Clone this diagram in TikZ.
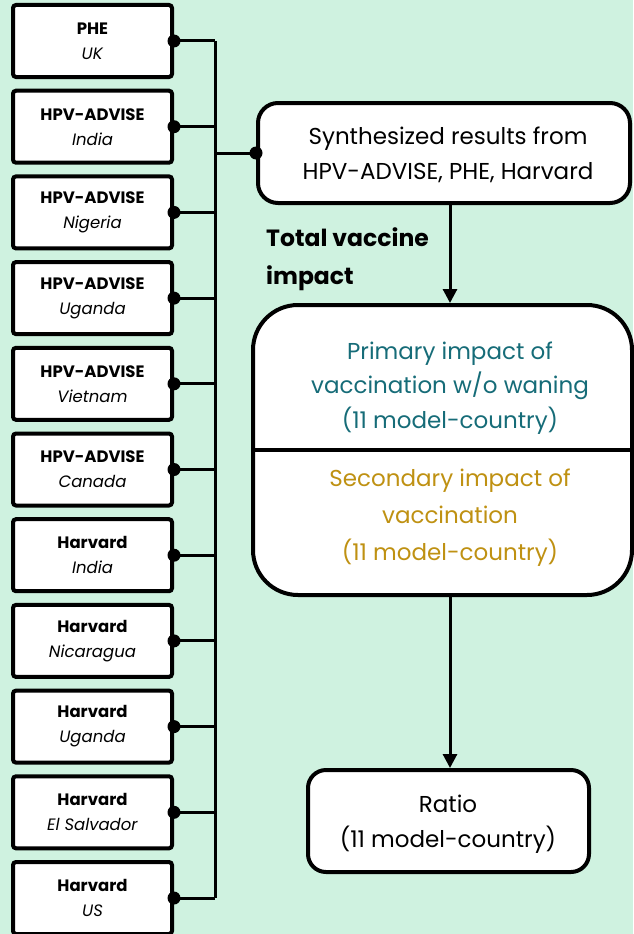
\documentclass[tikz,border=0pt]{standalone}
\usepackage{fontspec}
\setmainfont{Poppins}
\usetikzlibrary{arrows.meta}
\definecolor{bg}{RGB}{207,242,224}
\definecolor{tealtxt}{RGB}{22,108,120}
\definecolor{goldtxt}{RGB}{191,145,18}
\begin{document}
\begin{tikzpicture}[x=1pt,y=-1pt,
  src/.style={draw, line width=4pt, fill=white, rounded corners=3pt, minimum width=159pt, minimum height=72pt, align=center, font=\fontsize{16.5}{25}\selectfont, inner sep=0pt},
  bigbox/.style={draw, line width=4pt, fill=white, inner sep=0pt},
  conn/.style={line width=3pt},
  dot/.style={circle, fill=black, inner sep=0pt, minimum size=13pt},
  arr/.style={line width=3pt, -{Triangle[width=14pt,length=14pt]}},
  txt/.style={align=center, inner sep=0pt, font=\fontsize{23}{35}\selectfont}]
\fill[bg] (0,0) rectangle (633,934);
\useasboundingbox (0,0) rectangle (633,934);
\coordinate (bus) at (215,0);
\coordinate (ax) at (450,0);
\foreach \i/\m/\c in {0/PHE/UK,1/HPV-ADVISE/India,2/HPV-ADVISE/Nigeria,3/HPV-ADVISE/Uganda,4/HPV-ADVISE/Vietnam,5/HPV-ADVISE/Canada,6/Harvard/India,7/Harvard/Nicaragua,8/Harvard/Uganda,9/Harvard/El Salvador,10/Harvard/US}{
  \node[src] (s\i) at (92.5,{41+85.7*\i}) {\textbf{\m}\\\textit{\c}};
  \draw[conn] (s\i.east) -- (s\i.east -| bus);
}
\draw[conn] (s0.east -| bus) -- (s10.east -| bus);
% synthesized box
\node[bigbox, rounded corners=20pt, minimum width=372pt, minimum height=100pt] (syn) at (444,153) {};
\node[txt] (syntxt) at (448,155) {Synthesized results from\\HPV-ADVISE, PHE, Harvard};
\draw[conn] (syn.west -| bus) -- (syn.west);
\foreach \i in {0,...,10}{\node[dot] at (s\i.east) {};}
\node[dot] at (syn.west) {};
% impact box
\node[bigbox, rounded corners=45pt, minimum width=379pt, minimum height=290pt] (imp) at (442.5,450) {};
\draw[line width=4pt] (imp.west) -- (imp.east);
\node[txt, text=tealtxt, font=\fontsize{23}{34.5}\selectfont] (prim) at (450,388) {Primary impact of\\vaccination w/o waning\\(11 model-country)};
\node[txt, text=goldtxt, font=\fontsize{23}{37}\selectfont] (sec) at (450,518) {Secondary impact of\\vaccination\\(11 model-country)};
% ratio
\node[bigbox, rounded corners=18pt, minimum width=281pt, minimum height=102pt] (rat) at (448.5,821) {};
\node[txt] (rattxt) at (448,824) {Ratio\\(11 model-country)};
% arrows
\draw[arr] (syn.south -| ax) -- (imp.north -| ax);
\draw[arr] (imp.south -| ax) -- (rat.north -| ax);
\node[anchor=west, align=left, inner sep=0pt, font=\bfseries\fontsize{23.5}{38}\selectfont] (tot) at (266,259) {Total vaccine\\impact};
\end{tikzpicture}
\end{document}
